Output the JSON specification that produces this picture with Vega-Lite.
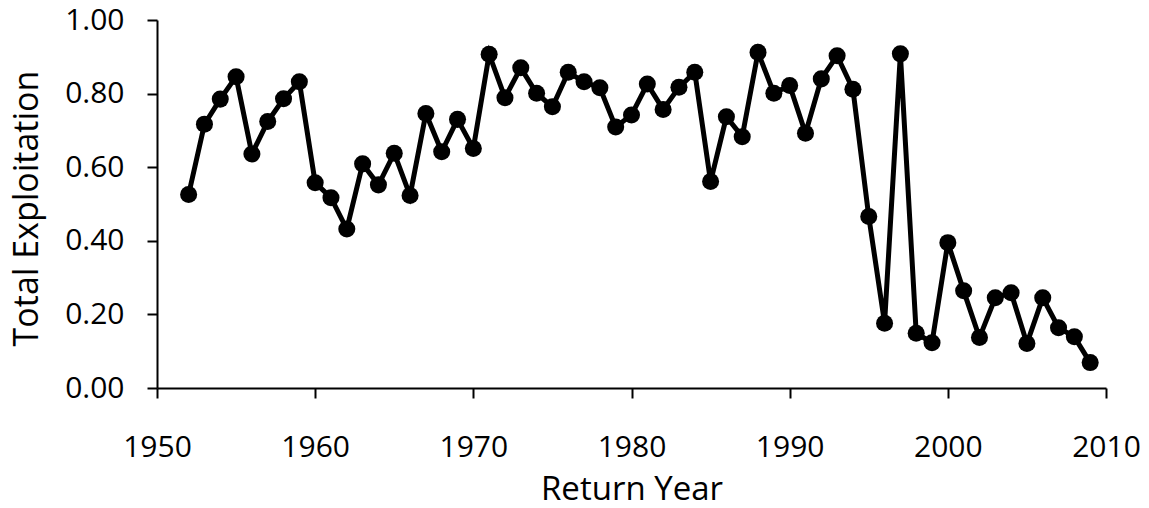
{
  "$schema": "https://vega.github.io/schema/vega-lite/v6.json",
  "width": 949,
  "height": 368,
  "autosize": {"type": "none"},
  "padding": {"left": 157, "top": 20, "right": 43, "bottom": 120},
  "background": "white",
  "config": {
    "view": {"stroke": null},
    "font": "Open Sans",
    "axis": {
      "grid": false,
      "domainColor": "black",
      "domainWidth": 2,
      "tickColor": "black",
      "tickWidth": 2,
      "tickSize": 10,
      "labelColor": "black",
      "labelFont": "Open Sans",
      "labelFontSize": 30,
      "titleColor": "black",
      "titleFont": "Open Sans",
      "titleFontSize": 33,
      "titleFontWeight": "normal"
    }
  },
  "data": {
    "values": [
      {"year": 1952, "exploitation": 0.526},
      {"year": 1953, "exploitation": 0.717},
      {"year": 1954, "exploitation": 0.785},
      {"year": 1955, "exploitation": 0.846},
      {"year": 1956, "exploitation": 0.636},
      {"year": 1957, "exploitation": 0.724},
      {"year": 1958, "exploitation": 0.786},
      {"year": 1959, "exploitation": 0.832},
      {"year": 1960, "exploitation": 0.558},
      {"year": 1961, "exploitation": 0.517},
      {"year": 1962, "exploitation": 0.432},
      {"year": 1963, "exploitation": 0.609},
      {"year": 1964, "exploitation": 0.552},
      {"year": 1965, "exploitation": 0.638},
      {"year": 1966, "exploitation": 0.523},
      {"year": 1967, "exploitation": 0.746},
      {"year": 1968, "exploitation": 0.642},
      {"year": 1969, "exploitation": 0.730},
      {"year": 1970, "exploitation": 0.651},
      {"year": 1971, "exploitation": 0.907},
      {"year": 1972, "exploitation": 0.789},
      {"year": 1973, "exploitation": 0.870},
      {"year": 1974, "exploitation": 0.801},
      {"year": 1975, "exploitation": 0.764},
      {"year": 1976, "exploitation": 0.858},
      {"year": 1977, "exploitation": 0.832},
      {"year": 1978, "exploitation": 0.816},
      {"year": 1979, "exploitation": 0.709},
      {"year": 1980, "exploitation": 0.742},
      {"year": 1981, "exploitation": 0.826},
      {"year": 1982, "exploitation": 0.757},
      {"year": 1983, "exploitation": 0.817},
      {"year": 1984, "exploitation": 0.858},
      {"year": 1985, "exploitation": 0.561},
      {"year": 1986, "exploitation": 0.737},
      {"year": 1987, "exploitation": 0.683},
      {"year": 1988, "exploitation": 0.912},
      {"year": 1989, "exploitation": 0.801},
      {"year": 1990, "exploitation": 0.822},
      {"year": 1991, "exploitation": 0.692},
      {"year": 1992, "exploitation": 0.840},
      {"year": 1993, "exploitation": 0.903},
      {"year": 1994, "exploitation": 0.812},
      {"year": 1995, "exploitation": 0.466},
      {"year": 1996, "exploitation": 0.176},
      {"year": 1997, "exploitation": 0.908},
      {"year": 1998, "exploitation": 0.149},
      {"year": 1999, "exploitation": 0.123},
      {"year": 2000, "exploitation": 0.395},
      {"year": 2001, "exploitation": 0.264},
      {"year": 2002, "exploitation": 0.137},
      {"year": 2003, "exploitation": 0.245},
      {"year": 2004, "exploitation": 0.259},
      {"year": 2005, "exploitation": 0.121},
      {"year": 2006, "exploitation": 0.245},
      {"year": 2007, "exploitation": 0.164},
      {"year": 2008, "exploitation": 0.139},
      {"year": 2009, "exploitation": 0.069}
    ]
  },
  "encoding": {
    "x": {
      "field": "year",
      "type": "quantitative",
      "scale": {"domain": [1950, 2010], "nice": false, "zero": false},
      "axis": {
        "title": "Return Year",
        "values": [1950, 1960, 1970, 1980, 1990, 2000, 2010],
        "format": "d",
        "labelBaseline": "alphabetic",
        "labelPadding": 58,
        "labelFlush": false,
        "labelOverlap": false,
        "titleBaseline": "alphabetic",
        "titleY": 111
      }
    },
    "y": {
      "field": "exploitation",
      "type": "quantitative",
      "scale": {"domain": [0, 1], "nice": false},
      "axis": {
        "title": "Total Exploitation",
        "values": [0, 0.2, 0.4, 0.6, 0.8, 1.0],
        "format": ".2f",
        "labelPadding": 23,
        "labelBaseline": "middle",
        "labelFlush": false,
        "labelOverlap": false,
        "titleAngle": -90,
        "titleBaseline": "top",
        "titleFontSize": 34,
        "titleX": -147,
        "titleY": 188
      }
    }
  },
  "layer": [
    {"mark": {"type": "line", "color": "black", "strokeWidth": 5}},
    {"mark": {"type": "point", "filled": true, "color": "black", "opacity": 1, "size": 290}}
  ]
}
